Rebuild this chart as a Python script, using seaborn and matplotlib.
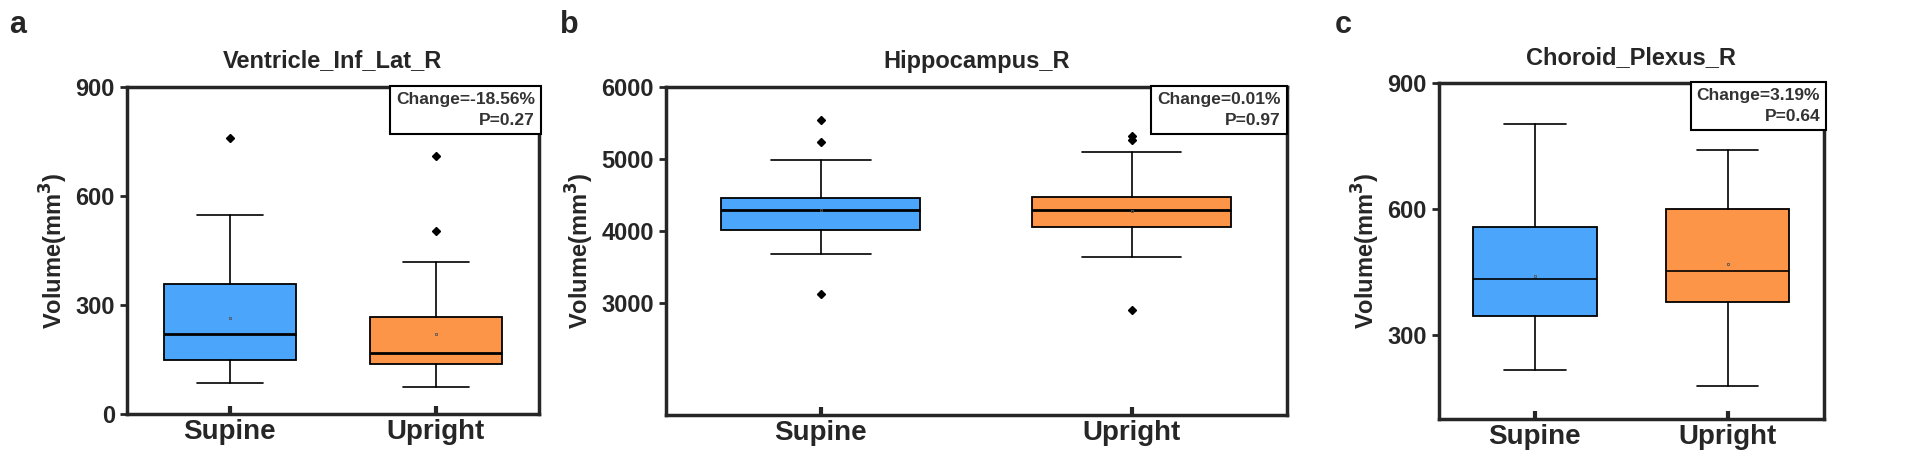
import matplotlib
matplotlib.use("Agg")
import matplotlib.pyplot as plt
import seaborn as sns

sns.set_theme(style="ticks", font="Liberation Sans")

groups = ["Supine", "Upright"]
titles = ["Ventricle_Inf_Lat_R", "Hippocampus_R", "Choroid_Plexus_R"]
panel_letters = ["a", "b", "c"]
changes = ["Change=-18.56%", "Change=0.01%", "Change=3.19%"]
pvalues = ["P=0.27", "P=0.97", "P=0.64"]

# five-number summaries: [whislo, q1, med, q3, whishi]
ventricle_stats = [[85, 148, 220, 358, 548], [75, 138, 168, 268, 418]]
ventricle_fliers = [[760], [505, 710]]
ventricle_means = [265, 220]
hippo_stats = [[3680, 4020, 4290, 4460, 4980], [3640, 4060, 4290, 4480, 5100]]
hippo_fliers = [[3130, 5230, 5540], [2900, 5270, 5320]]
hippo_means = [4290, 4280]
choroid_stats = [[218, 345, 435, 558, 803], [178, 380, 452, 600, 740]]
choroid_fliers = [[], []]
choroid_means = [440, 470]

yticks = [[0, 300, 600, 900], [3000, 4000, 5000, 6000], [300, 600, 900]]
ylims = [(0, 900), (1450, 6000), (100, 900)]

palette = ["#4aa5fb", "#fd9548"]

fig = plt.figure(figsize=(19.18, 4.70), dpi=100)
positions = [[0.066, 0.119, 0.215, 0.696], [0.347, 0.117, 0.324, 0.698], [0.750, 0.108, 0.201, 0.715]]
letter_x = [0.005, 0.292, 0.696]

panels = [(ventricle_stats, ventricle_fliers, ventricle_means),
          (hippo_stats, hippo_fliers, hippo_means),
          (choroid_stats, choroid_fliers, choroid_means)]

for i, (stats, fliers, means) in enumerate(panels):
    ax = fig.add_axes(positions[i])
    bxp = []
    for g, s in enumerate(stats):
        bxp.append(dict(whislo=s[0], q1=s[1], med=s[2], q3=s[3], whishi=s[4],
                        fliers=fliers[g], mean=means[g], label=groups[g]))
    art = ax.bxp(bxp, positions=[0, 1], widths=0.64, patch_artist=True, showmeans=True,
                 meanprops=dict(marker="s", markersize=2, markerfacecolor="none",
                                markeredgecolor="#555555", markeredgewidth=0.6),
                 medianprops=dict(color="black", linewidth=2 if i < 2 else 1.2),
                 whiskerprops=dict(color="black", linewidth=1.2),
                 capprops=dict(color="black", linewidth=1.2),
                 capwidths=0.32,
                 flierprops=dict(marker="D", markersize=4, markerfacecolor="black",
                                 markeredgecolor="black"))
    for patch, c in zip(art["boxes"], palette):
        patch.set_facecolor(c)
        patch.set_edgecolor("black")
        patch.set_linewidth(1.3)
    ax.set_xlim(-0.5, 1.5)
    ax.set_ylim(*ylims[i])
    ax.set_yticks(yticks[i])
    ax.set_xticks([0, 1])
    ax.set_xticklabels(groups, fontsize=20, fontweight="bold")
    ax.tick_params(axis="y", labelsize=17, width=2, length=5)
    ax.tick_params(axis="x", width=3, length=6, direction="in")
    for lab in ax.get_yticklabels():
        lab.set_fontweight("bold")
    for sp in ax.spines.values():
        sp.set_linewidth(2.5)
    ax.set_ylabel("Volume(mm$^\\mathbf{3}$)", fontsize=17, fontweight="bold")
    ax.set_title(titles[i], fontsize=17, fontweight="bold", pad=14)
    ax.text(0.99, 0.985, changes[i] + "\n" + pvalues[i], transform=ax.transAxes,
            ha="right", va="top", fontsize=12.5, color="#333333", linespacing=1.5,
            fontweight="bold",
            bbox=dict(boxstyle="square,pad=0.35", facecolor="white", edgecolor="black", linewidth=1.5))
    fig.text(letter_x[i], 0.93, panel_letters[i], fontsize=22, fontweight="bold")

fig.savefig("out.png", dpi=100)
